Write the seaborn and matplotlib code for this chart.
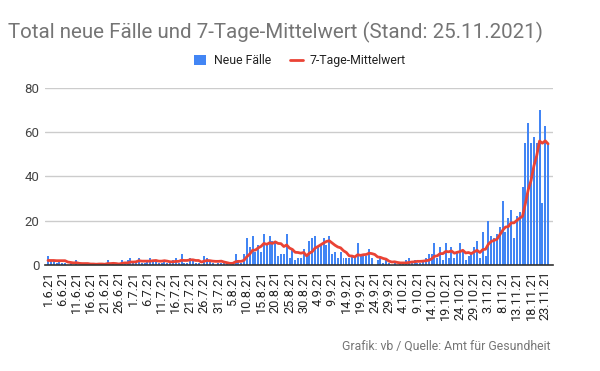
import numpy as np
import pandas as pd
import matplotlib
matplotlib.use("Agg")
import matplotlib.pyplot as plt
import seaborn as sns
from matplotlib.patches import Patch
from matplotlib.lines import Line2D

# ---- data ----
start_date = "2021-06-01"
n_days = 177

neue_faelle = [
    4, 2, 2, 1, 2, 1, 1, 0, 1, 0,
    2, 0, 0, 1, 0, 0, 0, 1, 1, 0,
    0, 2, 0, 1, 0, 0, 2, 1, 2, 3,
    1, 1, 3, 1, 1, 2, 3, 2, 2, 1,
    1, 2, 1, 1, 2, 3, 1, 5, 1, 1,
    3, 2, 1, 1, 0, 4, 3, 2, 1, 0,
    1, 1, 1, 1, 0, 1, 5, 2, 1, 5,
    12, 8, 13, 6, 9, 6, 14, 9, 13, 11,
    11, 4, 5, 5, 14, 3, 7, 2, 3, 3,
    7, 4, 11, 12, 13, 8, 9, 12, 9, 13,
    5, 6, 3, 6, 3, 3, 3, 4, 3, 10,
    4, 5, 4, 7, 3, 0, 2, 3, 1, 2,
    1, 0, 1, 0, 1, 1, 2, 3, 1, 2,
    1, 1, 2, 3, 5, 5, 10, 3, 8, 2,
    10, 3, 8, 3, 6, 10, 6, 2, 4, 5,
    8, 11, 3, 15, 4, 20, 13, 12, 14, 17,
    29, 15, 21, 25, 12, 22, 24, 35, 55, 64,
    55, 58, 55, 70, 28, 63, 54,
]

mittelwert = [
    2.0, 2.0, 2.0, 1.9, 1.9, 1.9, 1.9, 1.3, 1.1, 0.9,
    1.0, 0.7, 0.6, 0.6, 0.6, 0.4, 0.4, 0.3, 0.4, 0.4,
    0.3, 0.6, 0.6, 0.7, 0.6, 0.4, 0.7, 0.9, 0.9, 1.3,
    1.3, 1.4, 1.9, 1.7, 1.7, 1.7, 1.7, 1.9, 2.0, 1.7,
    1.7, 1.9, 1.7, 1.4, 1.4, 1.6, 1.6, 2.1, 2.0, 2.0,
    2.3, 2.3, 2.0, 2.0, 1.3, 1.7, 2.0, 1.9, 1.7, 1.6,
    1.6, 1.7, 1.3, 1.0, 0.7, 0.7, 1.4, 1.6, 1.6, 2.1,
    3.7, 4.9, 6.6, 6.7, 7.7, 8.4, 9.7, 9.3, 10.0, 9.7,
    10.4, 9.7, 9.6, 8.3, 9.0, 7.6, 7.0, 5.7, 5.6, 5.3,
    5.6, 4.1, 5.3, 6.0, 7.6, 8.3, 9.1, 9.9, 10.6, 10.9,
    9.9, 8.9, 8.1, 7.7, 6.4, 5.6, 4.1, 4.0, 3.6, 4.6,
    4.3, 4.6, 4.7, 5.3, 5.1, 4.7, 3.6, 3.4, 2.9, 2.6,
    1.7, 1.3, 1.4, 1.1, 0.9, 0.9, 0.9, 1.1, 1.3, 1.4,
    1.6, 1.6, 1.7, 1.9, 2.1, 2.7, 3.9, 4.1, 5.1, 5.1,
    6.1, 5.9, 6.3, 5.3, 5.7, 6.0, 6.6, 5.4, 5.6, 5.1,
    5.9, 6.6, 5.6, 6.9, 7.1, 9.4, 10.6, 11.1, 11.6, 13.6,
    15.6, 17.1, 17.3, 19.0, 19.0, 20.1, 21.1, 22.0, 27.7, 33.9,
    38.1, 44.7, 49.4, 56.0, 55.0, 56.1, 54.7,
]

y_ticks = [0, 20, 40, 60, 80]
title = "Total neue Fälle und 7-Tage-Mittelwert (Stand: 25.11.2021)"
footer = "Grafik: vb / Quelle: Amt für Gesundheit"
label_bars = "Neue Fälle"
label_line = "7-Tage-Mittelwert"

dates = pd.date_range(start_date, periods=n_days, freq="D")
date_labels = [f"{d.day}.{d.month}.{d.strftime('%y')}" for d in dates]

df = pd.DataFrame({
    "pos": np.arange(n_days),
    "datum": date_labels,
    "faelle": neue_faelle,
    "mittel": mittelwert,
})

# ---- styling ----
sns.set_theme(style="white")
plt.rcParams["font.family"] = ["Roboto", "DejaVu Sans"]

BLUE = "#4285F4"
RED = "#EA4335"
GRAY = "#757575"

fig = plt.figure(figsize=(6.0, 3.71), dpi=100)
ax = fig.add_axes([0.075, 0.286, 0.847, 0.477])

sns.barplot(data=df, x="pos", y="faelle", color=BLUE, saturation=1,
            width=0.7, ax=ax, native_scale=True, linewidth=0)
sns.lineplot(data=df, x="pos", y="mittel", color=RED, linewidth=2.0, ax=ax)

ax.set_xlim(-1.05, 177.8)
ax.set_ylim(0, 80)
ax.set_yticks(y_ticks)
ax.set_yticklabels([str(v) for v in y_ticks], fontsize=9.5, color="#444444")
tick_pos = list(range(0, n_days, 5))
ax.set_xticks(tick_pos)
ax.set_xticklabels([date_labels[i] for i in tick_pos], rotation=90,
                   fontsize=9.2, color="#222222")
ax.tick_params(axis="both", length=0, pad=4)
ax.set_xlabel("")
ax.set_ylabel("")
ax.grid(axis="y", color="#cccccc", linewidth=1.0)
ax.grid(axis="x", visible=False)
ax.set_axisbelow(True)
for s in ["top", "right", "left"]:
    ax.spines[s].set_visible(False)
ax.spines["bottom"].set_color("#333333")
ax.spines["bottom"].set_linewidth(1.2)
ax.spines["bottom"].set_zorder(5)
if ax.get_legend() is not None:
    ax.get_legend().remove()

fig.text(0.013, 0.913, title, fontsize=14.8, color=GRAY, ha="left", va="center")

handles = [Patch(facecolor=BLUE, edgecolor="none"),
           Line2D([0], [0], color=RED, linewidth=2.0)]
fig.legend(handles, [label_bars, label_line], loc="center",
           bbox_to_anchor=(0.5, 0.836), ncol=2, frameon=False,
           fontsize=8.8, handlelength=1.0, handleheight=0.8,
           columnspacing=1.6, handletextpad=0.6, labelcolor="#222222")

fig.text(0.918, 0.067, footer, fontsize=8.8, color=GRAY, ha="right", va="center")

fig.savefig("out.png", dpi=100)
